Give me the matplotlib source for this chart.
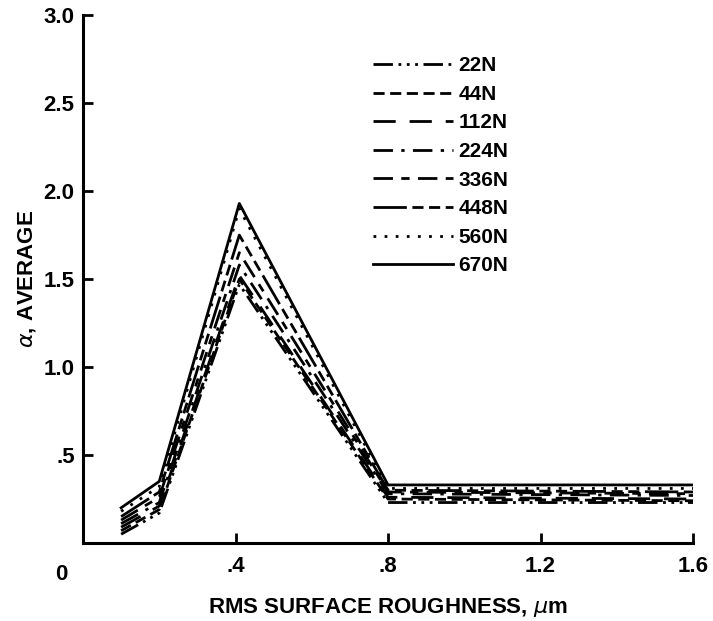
import matplotlib
matplotlib.use("Agg")
import matplotlib.pyplot as plt

plt.rcParams['font.family'] = ['Liberation Sans', 'DejaVu Sans']

roughness = [0.10, 0.20, 0.41, 0.80, 1.60]
loads = ["22N", "44N", "112N", "224N", "336N", "448N", "560N", "670N"]
alpha_22 = [0.05, 0.17, 1.47, 0.23, 0.23]
alpha_44 = [0.07, 0.19, 1.50, 0.25, 0.24]
alpha_112 = [0.09, 0.21, 1.52, 0.26, 0.25]
alpha_224 = [0.11, 0.23, 1.58, 0.28, 0.27]
alpha_336 = [0.13, 0.26, 1.65, 0.29, 0.28]
alpha_448 = [0.15, 0.29, 1.75, 0.30, 0.29]
alpha_560 = [0.18, 0.32, 1.90, 0.31, 0.31]
alpha_670 = [0.20, 0.35, 1.93, 0.33, 0.33]
series = [alpha_22, alpha_44, alpha_112, alpha_224, alpha_336, alpha_448, alpha_560, alpha_670]
styles = [
    (0, (7, 2, 1, 2, 1, 2, 1, 2)),
    (0, (4, 2)),
    (0, (8, 5)),
    (0, (7, 3, 1.2, 3)),
    (0, (7, 3, 3, 3)),
    (0, (12, 2, 4, 2, 4, 2)),
    (0, (1, 3)),
    '-',
]

fig = plt.figure(figsize=(7.13, 6.21), dpi=100)
ax = fig.add_axes([0.1164, 0.1256, 0.8556, 0.850])

for vals, lab, ls in zip(series, loads, styles):
    ax.plot(roughness, vals, color='black', lw=2.0, linestyle=ls, label=lab)

ax.set_xlim(0, 1.6)
ax.set_ylim(0, 3.0)
ax.set_xticks([0.4, 0.8, 1.2, 1.6])
ax.set_xticklabels(['.4', '.8', '1.2', '1.6'])
ax.set_yticks([0.5, 1.0, 1.5, 2.0, 2.5, 3.0])
ax.set_yticklabels(['.5', '1.0', '1.5', '2.0', '2.5', '3.0'])
for s in ['top', 'right']:
    ax.spines[s].set_visible(False)
for s in ['left', 'bottom']:
    ax.spines[s].set_linewidth(2.2)
ax.tick_params(direction='in', length=7, width=2, labelsize=16, pad=6)
ax.tick_params(axis='x', pad=9)
for t in ax.get_xticklabels() + ax.get_yticklabels():
    t.set_fontweight('bold')
ax.text(-0.035, -0.04, '0', transform=ax.transAxes, ha='center', va='top',
        fontsize=16, fontweight='bold')

ax.set_xlabel('RMS SURFACE ROUGHNESS, $\\mu$m', fontsize=16, fontweight='bold', labelpad=14)
ax.set_ylabel('$\\alpha$, AVERAGE', fontsize=16, fontweight='bold', labelpad=4)

leg = ax.legend(loc='upper left', bbox_to_anchor=(0.475, 0.922), frameon=False,
                borderaxespad=0, borderpad=0,
                handlelength=3.85, handletextpad=0.25, labelspacing=0.46,
                prop={'size': 15, 'weight': 'bold'})

fig.savefig('out.png', dpi=100)
